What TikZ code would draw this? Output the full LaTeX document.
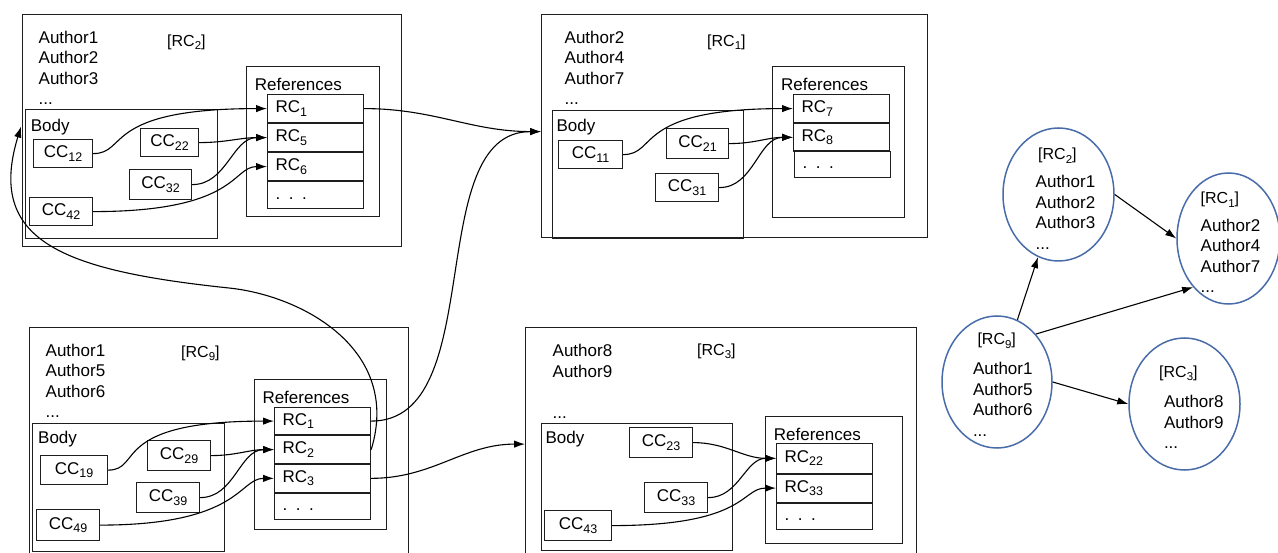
\documentclass[tikz,border=0pt]{standalone}
\usepackage{fontspec}
\setmainfont{Liberation Sans}
\usetikzlibrary{arrows.meta,shapes.geometric,calc}
\definecolor{ellblue}{RGB}{72,108,170}
\definecolor{linegray}{RGB}{30,30,30}
\newcommand\mysub[1]{\raisebox{-0.2em}{\fontsize{12.5}{12.5}\selectfont #1}}
\newcommand\mysubs[1]{\raisebox{-0.2em}{\fontsize{11.5}{11.5}\selectfont #1}}
\newcommand\panelbox[7]{\node[#1, anchor=north west, minimum width={#5-#3}, minimum height={#6-#4}] (#2) at (#3,#4) {#7};}
\begin{document}
\begin{tikzpicture}[x=1pt, y=-1pt,
  every node/.style={inner sep=0pt, font=\fontsize{17}{20.5}\selectfont},
  frame/.style={draw=linegray, line width=1.2pt},
  ccbox/.style={frame},
  rowbox/.style={frame, text width=80pt, inner xsep=8pt, align=left},
  txt/.style={anchor=base west},
  lst/.style={anchor=north west, align=left},
  lab/.style={anchor=base west, font=\fontsize{16}{19}\selectfont},
  ell/.style={draw=ellblue, line width=1.5pt, ellipse},
  conn/.style={line width=1.1pt, -{Latex[length=11pt,width=7.5pt]}},
]
\useasboundingbox (0,0) rectangle (1278,553);

% ---------- panel RC2 (top left)
\panelbox{frame}{p1}{22}{14}{401}{246}{}
\panelbox{frame}{b1}{25}{109}{217}{238}{}
\panelbox{frame}{f1}{246}{66}{379}{216}{}
\node[lst] (au1) at (38.5,30.5) {Author1\\Author2\\Author3\\...};
\node[lab] (lb1) at (167,46.7) {[RC\mysubs{2}]};
\node[txt] (bd1) at (30.7,131.7) {Body};
\node[txt] (rf1) at (254.7,90.7) {References};
\panelbox{ccbox}{cc12}{33}{139}{92}{167}{CC\mysub{12}}
\panelbox{ccbox}{cc22}{140}{128}{198}{156}{CC\mysub{22}}
\panelbox{ccbox}{cc32}{129}{169}{191}{199}{CC\mysub{32}}
\panelbox{ccbox}{cc42}{29}{197}{92}{225}{CC\mysub{42}}
\panelbox{rowbox}{ra1}{267}{94}{363}{122}{RC\mysub{1}}
\panelbox{rowbox}{ra5}{267}{123}{363}{151}{RC\mysub{5}}
\panelbox{rowbox}{ra6}{267}{152}{363}{180}{RC\mysub{6}}
\panelbox{rowbox}{rad}{267}{181}{363}{208}{\strut. . .}

% ---------- panel RC1 (top right)
\panelbox{frame}{p2}{541}{14}{927}{237}{}
\panelbox{frame}{b2}{552}{110}{743}{238}{}
\panelbox{frame}{f2}{772}{66}{904}{217}{}
\node[lst] (au2) at (564.5,30.5) {Author2\\Author4\\Author7\\...};
\node[lab] (lb2) at (707,46.5) {[RC\mysubs{1}]};
\node[txt] (bd2) at (556.4,131.7) {Body};
\node[txt] (rf2) at (781,90.7) {References};
\panelbox{ccbox}{cc11}{558}{140}{622}{168}{CC\mysub{11}}
\panelbox{ccbox}{cc21}{666}{128}{728}{158}{CC\mysub{21}}
\panelbox{ccbox}{cc31}{655}{173}{718}{201}{CC\mysub{31}}
\panelbox{rowbox}{rb7}{793}{94}{889}{122}{RC\mysub{7}}
\panelbox{rowbox}{rb8}{793}{123}{889}{150.5}{RC\mysub{8}}
\panelbox{rowbox}{rbd}{794}{151}{890}{177}{\strut. . .}

% ---------- panel RC9 (bottom left)
\panelbox{frame}{p3}{29}{327}{408}{560}{}
\panelbox{frame}{b3}{32}{423}{224}{551}{}
\panelbox{frame}{f3}{254}{379}{386}{529}{}
\node[lst] (au3) at (45.5,343.8) {Author1\\Author5\\Author6\\...};
\node[lab] (lb3) at (181,357.5) {[RC\mysubs{9}]};
\node[txt] (bd3) at (38,443.3) {Body};
\node[txt] (rf3) at (262.3,403.3) {References};
\panelbox{ccbox}{cc19}{40}{455}{107}{484}{CC\mysub{19}}
\panelbox{ccbox}{cc29}{147}{440}{210}{470}{CC\mysub{29}}
\panelbox{ccbox}{cc39}{136}{482}{199}{512}{CC\mysub{39}}
\panelbox{ccbox}{cc49}{36}{509}{99}{540}{CC\mysub{49}}
\panelbox{rowbox}{rc1}{274}{407}{370}{434}{RC\mysub{1}}
\panelbox{rowbox}{rc2}{274}{435}{370}{463}{RC\mysub{2}}
\panelbox{rowbox}{rc3}{274}{464}{370}{491.5}{RC\mysub{3}}
\panelbox{rowbox}{rcd}{274}{492.5}{370}{519}{\strut. . .}

% ---------- panel RC3 (bottom middle)
\panelbox{frame}{p4}{525}{327}{916}{560}{}
\panelbox{frame}{b4}{541}{423}{732}{550}{}
\panelbox{frame}{f4}{765}{416}{902}{543}{}
\node[lst] (au4) at (552.5,344.3) {Author8\\Author9};
\node[txt] (au4d) at (552.5,418.5) {...};
\node[lab] (lb4) at (697,355.5) {[RC\mysubs{3}]};
\node[txt] (bd4) at (545.4,443.3) {Body};
\node[txt] (rf4) at (773.7,440) {References};
\panelbox{ccbox}{cc23}{629}{427}{692}{457}{CC\mysub{23}}
\panelbox{ccbox}{cc33}{644}{482}{707}{512}{CC\mysub{33}}
\panelbox{ccbox}{cc43}{544}{510}{611}{540}{CC\mysub{43}}
\panelbox{rowbox}{rd22}{776}{443}{872}{472.5}{RC\mysub{22}}
\panelbox{rowbox}{rd33}{776}{473.5}{872}{501.5}{RC\mysub{33}}
\panelbox{rowbox}{rdd}{776}{502.5}{872}{529}{\strut. . .}

% ---------- connectors inside panels
\draw[conn] (cc12.east) to[out=0,in=180,out distance=35pt,in distance=165pt] (ra1.west);
\draw[conn] (cc22.east) to[out=0,in=180] (ra5.west);
\draw[conn] (cc32.east) to[out=0,in=180] (ra5.west);
\draw[conn] (cc42.east) to[out=0,in=180,out distance=145pt,in distance=35pt] (ra6.west);

\draw[conn] (cc11.east) to[out=0,in=180,out distance=35pt,in distance=160pt] (rb7.west);
\draw[conn] (cc21.east) to[out=0,in=180] (rb8.west);
\draw[conn] (cc31.east) to[out=0,in=180] (rb8.west);

\draw[conn] (cc19.east) to[out=0,in=180,out distance=35pt,in distance=165pt] (rc1.west);
\draw[conn] (cc29.east) to[out=0,in=180] (rc2.west);
\draw[conn] (cc39.east) to[out=0,in=180] (rc2.west);
\draw[conn] (cc49.east) to[out=0,in=180,out distance=140pt,in distance=35pt] (rc3.west);

\draw[conn] (cc23.east) to[out=0,in=180] (rd22.west);
\draw[conn] (cc33.east) to[out=0,in=180] (rd22.west);
\draw[conn] (cc43.east) to[out=0,in=180,out distance=135pt,in distance=35pt] (rd33.west);

% ---------- connectors between panels
\coordinate (tipR) at ($(p2.west)+(0,5.5)$);
\coordinate (tipL) at ($(p1.west)+(-1,-4)$);
\coordinate (bend) at (229,288);
\draw[conn] (ra1.east) to[out=0,in=180] (tipR);
\draw[conn] (rc1.east) to[out=0,in=180,out distance=119pt,in distance=120pt] (tipR);
\draw[conn] (rc2.east) to[out=73,in=-6,out distance=104pt,in distance=75pt] (bend)
  to[out=174,in=253,out distance=169pt,in distance=119pt] (tipL);
\draw[conn] (rc3.east) to[out=0,in=180] (p4.west);

% ---------- citation graph
\node[ell, minimum width=111, minimum height=133] (e2) at (1058.5,194.5) {};
\node[ell, minimum width=103, minimum height=131] (e1) at (1228.5,238.5) {};
\node[ell, minimum width=110, minimum height=132] (e9) at (997,382) {};
\node[ell, minimum width=111, minimum height=132] (e3) at (1184.5,404) {};

\node[lab] (le2) at (1038,160) {[RC\mysubs{2}]};
\node[lst] (ae2) at (1035.5,175.1) {Author1\\Author2\\Author3\\...};
\node[lab] (le1) at (1200.5,204) {[RC\mysubs{1}]};
\node[lst] (ae1) at (1200.5,218.8) {Author2\\Author4\\Author7\\...};
\node[lab] (le9) at (977.3,345) {[RC\mysubs{9}]};
\node[lst] (ae9) at (972.8,362.1) {Author1\\Author5\\Author6\\...};
\node[lab] (le3) at (1159,377.3) {[RC\mysubs{3}]};
\node[lst] (ae3) at (1163.8,395.1) {Author8\\Author9\\...};

\draw[conn] (e9) -- (e2);
\draw[conn] (e2.east) -- (e1.west);
\draw[conn] (e9.51) -- (e1.234);
\draw[conn] (e9.east) -- (e3.west);
\end{tikzpicture}
\end{document}
